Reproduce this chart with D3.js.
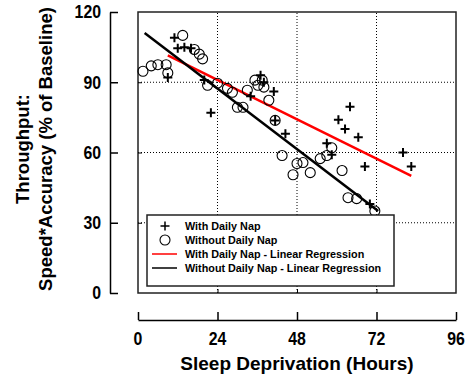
<!DOCTYPE html>
<html>
<head>
<meta charset="utf-8">
<script src="https://cdn.jsdelivr.net/npm/d3@7"></script>
<style>
  body { margin: 0; background: #fff; }
  .tick-label { font-family: "Liberation Sans", Arial, sans-serif; font-weight: bold; font-size: 18px; }
  .axis-title { font-family: "Liberation Sans", Arial, sans-serif; font-weight: bold; }
  .legend text { font-family: "Liberation Sans", Arial, sans-serif; font-weight: bold; font-size: 10.8px; }
</style>
</head>
<body>
<div id="chart"></div>
<script>
// hours of sleep deprivation / throughput (% of baseline)
const napHours = [11, 12, 14, 16, 9, 20, 22, 34, 37, 38, 41, 41.4, 44.5, 57, 58.5, 60.5, 62.5, 64, 66.5, 68.5, 70, 80, 82.5];
const napScore = [109, 104.5, 105, 104.5, 92, 91, 77, 84, 93, 90, 86, 73.7, 68, 64, 59, 74, 70, 79.5, 66.5, 54, 38, 60, 54];

const noNapHours = [1.5, 4, 6, 8.5, 9, 13.5, 17, 18.5, 19.5, 21, 24, 27, 28.5, 30, 31.7, 33, 35.3, 36.2, 37.5, 38, 39.5, 41.4, 43.5, 46.8, 48, 49.8, 52, 55, 57, 58.5, 61.6, 63.4, 66, 71.5];
const noNapScore = [94.7, 97, 97.5, 97.5, 94, 110, 104, 102, 100, 88.7, 89.6, 87.4, 85.7, 79.3, 79.3, 86.6, 90.9, 88.7, 90.9, 87.9, 82.3, 73.7, 58.7, 50.5, 55.3, 55.7, 51.4, 57.4, 58.7, 62, 52.3, 40.7, 40.3, 35];

// regression line end points
const napFitHours = [9, 82.5];
const napFitScore = [101.5, 50];
const noNapFitHours = [2, 72.5];
const noNapFitScore = [111, 35];

const xTicks = [0, 24, 48, 72, 96];
const yTicks = [0, 30, 60, 90, 120];
const legendLabels = ['With Daily Nap', 'Without Daily Nap', 'With Daily Nap - Linear Regression', 'Without Daily Nap - Linear Regression'];

const width = 468, height = 380;
const margin = { top: 12, right: 12, bottom: 87, left: 138 };
const plotW = width - margin.left - margin.right;
const plotH = height - margin.top - margin.bottom;

const svg = d3.select('#chart').append('svg')
  .attr('width', width)
  .attr('height', height);

const x = d3.scaleLinear().domain([0, 96]).range([margin.left, margin.left + plotW]);
const y = d3.scaleLinear().domain([0, 120]).range([margin.top + plotH, margin.top]);

// dotted grid
svg.append('g').selectAll('line.gx')
  .data(xTicks.slice(1, -1))
  .join('line')
  .attr('x1', d => x(d)).attr('x2', d => x(d))
  .attr('y1', y(0)).attr('y2', y(120))
  .attr('stroke', '#000').attr('stroke-width', 1).attr('stroke-dasharray', '1,2');
svg.append('g').selectAll('line.gy')
  .data(yTicks.slice(1, -1))
  .join('line')
  .attr('x1', x(0)).attr('x2', x(96))
  .attr('y1', d => y(d)).attr('y2', d => y(d))
  .attr('stroke', '#000').attr('stroke-width', 1).attr('stroke-dasharray', '1,2');

// plot frame with small inner ticks
svg.append('rect')
  .attr('x', x(0)).attr('y', y(120))
  .attr('width', x(96) - x(0)).attr('height', y(0) - y(120))
  .attr('fill', 'none').attr('stroke', '#222').attr('stroke-width', 1.5);
svg.append('g')
  .attr('transform', `translate(0,${y(0)})`)
  .call(d3.axisTop(x).tickValues(xTicks.slice(1, -1)).tickSize(4).tickFormat(''))
  .call(g => g.select('.domain').remove());
svg.append('g')
  .attr('transform', `translate(${x(0)},0)`)
  .call(d3.axisRight(y).tickValues(yTicks.slice(1, -1)).tickSize(4).tickFormat(''))
  .call(g => g.select('.domain').remove());

// detached axes
const yAxisX = 110, xAxisY = 320;
const yAxis = svg.append('g')
  .attr('transform', `translate(${yAxisX},0)`)
  .call(d3.axisRight(y).tickValues(yTicks).tickSize(8).tickSizeOuter(0).tickFormat(''));
yAxis.select('.domain').attr('stroke-width', 1.5);
yAxis.selectAll('.tick line').attr('stroke-width', 1.5);
svg.append('g').selectAll('text')
  .data(yTicks)
  .join('text')
  .attr('class', 'tick-label')
  .attr('transform', d => `translate(101,${y(d)}) scale(0.88,1)`)
  .attr('dy', '0.36em')
  .attr('text-anchor', 'end')
  .text(d => d);

const xAxis = svg.append('g')
  .attr('transform', `translate(0,${xAxisY})`)
  .call(d3.axisTop(x).tickValues(xTicks).tickSize(8).tickSizeOuter(0).tickFormat(''));
xAxis.select('.domain').attr('stroke-width', 1.5);
xAxis.selectAll('.tick line').attr('stroke-width', 1.5);
svg.append('g').selectAll('text')
  .data(xTicks)
  .join('text')
  .attr('class', 'tick-label')
  .attr('transform', d => `translate(${x(d)},345) scale(0.88,1)`)
  .attr('text-anchor', 'middle')
  .text(d => d);

svg.append('text')
  .attr('class', 'axis-title')
  .style('font-size', '19px')
  .attr('x', x(48)).attr('y', 370)
  .attr('text-anchor', 'middle')
  .text('Sleep Deprivation (Hours)');

const yTitle = svg.append('text')
  .attr('class', 'axis-title')
  .style('font-size', '18.5px')
  .attr('transform', `translate(29,149) rotate(-90)`)
  .attr('text-anchor', 'middle');
yTitle.append('tspan').attr('x', 0).attr('y', 0).text('Throughput:');
yTitle.append('tspan').attr('x', 0).attr('y', 23).text('Speed*Accuracy (% of Baseline)');

// regression lines
const line = d3.line().x(d => x(d[0])).y(d => y(d[1]));
svg.append('path')
  .datum(d3.zip(napFitHours, napFitScore))
  .attr('d', line)
  .attr('fill', 'none').attr('stroke', '#ff0000').attr('stroke-width', 2.5);
svg.append('path')
  .datum(d3.zip(noNapFitHours, noNapFitScore))
  .attr('d', line)
  .attr('fill', 'none').attr('stroke', '#000').attr('stroke-width', 2.5);

// markers
svg.append('g').selectAll('circle')
  .data(d3.zip(noNapHours, noNapScore))
  .join('circle')
  .attr('cx', d => x(d[0])).attr('cy', d => y(d[1]))
  .attr('r', 5)
  .attr('fill', 'none').attr('stroke', '#000').attr('stroke-width', 1.1);

svg.append('g').selectAll('path')
  .data(d3.zip(napHours, napScore))
  .join('path')
  .attr('transform', d => `translate(${x(d[0])},${y(d[1])})`)
  .attr('d', 'M-4.5,0H4.5M0,-4.5V4.5')
  .attr('stroke', '#000').attr('stroke-width', 2);

// legend
const legend = svg.append('g').attr('class', 'legend');
legend.append('rect')
  .attr('x', 147).attr('y', 215).attr('width', 247).attr('height', 71)
  .attr('fill', '#fff').attr('stroke', '#222').attr('stroke-width', 1.5);
const rowY = i => 226 + i * 14;
legend.append('path')
  .attr('d', `M160.5,${rowY(0)}H169.5M165,${rowY(0) - 4.5}V${rowY(0) + 4.5}`)
  .attr('stroke', '#000').attr('stroke-width', 1.5);
legend.append('circle')
  .attr('cx', 165).attr('cy', rowY(1)).attr('r', 5)
  .attr('fill', 'none').attr('stroke', '#000').attr('stroke-width', 1.1);
legend.append('line')
  .attr('x1', 152).attr('x2', 177).attr('y1', rowY(2)).attr('y2', rowY(2))
  .attr('stroke', '#ff0000').attr('stroke-width', 1.5);
legend.append('line')
  .attr('x1', 152).attr('x2', 177).attr('y1', rowY(3)).attr('y2', rowY(3))
  .attr('stroke', '#000').attr('stroke-width', 1.5);
legend.selectAll('text.lab')
  .data(legendLabels)
  .join('text')
  .attr('x', 185).attr('y', (d, i) => rowY(i))
  .attr('dy', '0.35em')
  .text(d => d);
</script>
</body>
</html>
